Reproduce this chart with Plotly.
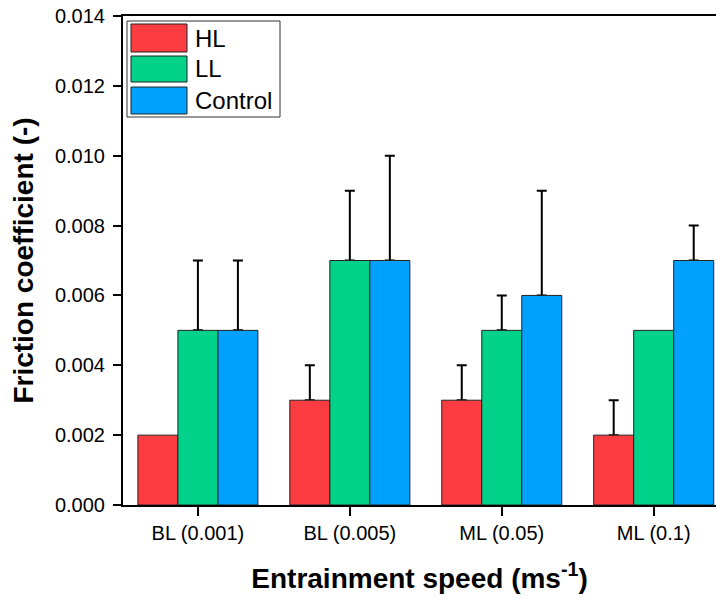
import plotly.graph_objects as go

categories = ["BL (0.001)", "BL (0.005)", "ML (0.05)", "ML (0.1)"]
series_names = ["HL", "LL", "Control"]
hl_values = [0.002, 0.003, 0.003, 0.002]
ll_values = [0.005, 0.007, 0.005, 0.005]
control_values = [0.005, 0.007, 0.006, 0.007]
hl_errors = [None, 0.001, 0.001, 0.001]
ll_errors = [0.002, 0.002, 0.001, None]
control_errors = [0.002, 0.003, 0.003, 0.001]
y_ticks = [0.000, 0.002, 0.004, 0.006, 0.008, 0.010, 0.012, 0.014]

colors = ["#FB3C41", "#00D28A", "#00A0FF"]
values = [hl_values, ll_values, control_values]
errors = [hl_errors, ll_errors, control_errors]

FONT = "Liberation Sans, Arial, sans-serif"
xs = list(range(len(categories)))

fig = go.Figure()
# error bars first (on transparent bars), so the coloured bars drawn later hide the lower caps
for name, vals, errs in zip(series_names, values, errors):
    up = ["NaN" if e is None else e for e in errs]
    down = ["NaN" if e is None else 0 for e in errs]
    fig.add_trace(go.Bar(
        x=xs, y=vals, name=name + " error", offsetgroup=name,
        marker=dict(color="rgba(0,0,0,0)", line=dict(width=0)),
        error_y=dict(type="data", array=up, arrayminus=down,
                     symmetric=False, color="black", thickness=2, width=5),
        showlegend=False, hoverinfo="skip",
    ))
for name, vals, col in zip(series_names, values, colors):
    fig.add_trace(go.Bar(
        x=xs, y=vals, name=name, offsetgroup=name,
        marker=dict(color=col, line=dict(color="#222222", width=1)),
        showlegend=False,
    ))

# custom legend (box + swatches + labels) in paper coordinates
L, T, W, H = 123, 16, 593, 489
def px(x):
    return (x - L) / W
def py(y):
    return 1 - (y - T) / H

fig.add_shape(type="rect", xref="paper", yref="paper",
              x0=px(127), x1=px(280), y0=py(117), y1=py(21),
              line=dict(color="#333333", width=1), fillcolor="white", layer="above")
sw = [(24, 52), (56, 82), (87, 114)]
for (y0, y1), col, name in zip(sw, colors, series_names):
    fig.add_shape(type="rect", xref="paper", yref="paper",
                  x0=px(131), x1=px(187), y0=py(y1), y1=py(y0),
                  line=dict(color="#222222", width=1), fillcolor=col, layer="above")
    fig.add_annotation(xref="paper", yref="paper", x=px(193), y=py((y0 + y1) / 2),
                       text=name, showarrow=False, xanchor="left", yanchor="middle",
                       font=dict(family=FONT, size=24, color="black"))

fig.update_layout(
    width=716, height=599,
    margin=dict(l=123, r=0, t=16, b=94),
    paper_bgcolor="white", plot_bgcolor="white",
    barmode="group", bargap=0.21, bargroupgap=0,
    font=dict(family=FONT, color="black"),
)
fig.update_xaxes(
    range=[-0.493, 3.41], tickmode="array",
    tickvals=xs, ticktext=categories,
    ticks="outside", ticklen=9, tickwidth=2, tickcolor="black",
    showline=True, linecolor="black", linewidth=2, mirror=True,
    showgrid=False, zeroline=False,
    tickfont=dict(family=FONT, size=20),
    title=dict(text="<b>Entrainment speed (ms<sup>-1</sup>)</b>",
               font=dict(family=FONT, size=28), standoff=25),
)
fig.update_yaxes(
    range=[0, 0.014], tickmode="array", tickvals=y_ticks,
    ticktext=[f"{v:.3f}" for v in y_ticks],
    ticks="outside", ticklen=8, tickwidth=2, tickcolor="black",
    showline=True, linecolor="black", linewidth=2, mirror=False,
    showgrid=False, zeroline=False, ticklabelstandoff=4,
    tickfont=dict(family=FONT, size=20),
    title=dict(text="<b>Friction coefficient (-)</b>",
               font=dict(family=FONT, size=28), standoff=13),
)

fig.write_html("out.html")
